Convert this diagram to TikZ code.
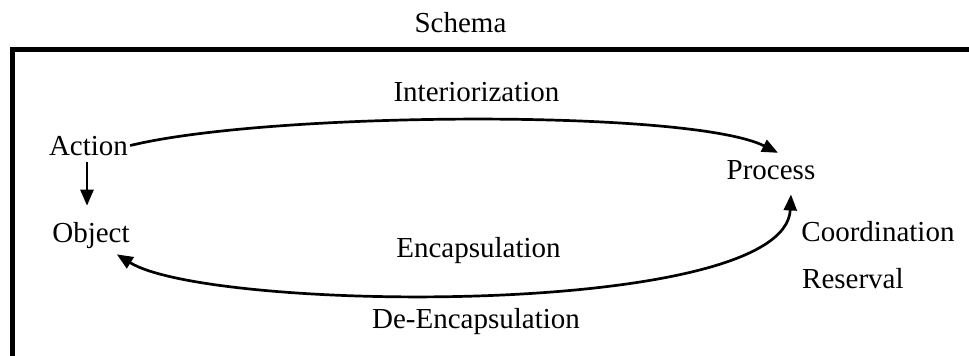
\documentclass[tikz,border=0pt]{standalone}
\usepackage{fontspec}
\setmainfont{Liberation Serif}
\usetikzlibrary{arrows.meta}
\begin{document}
\begin{tikzpicture}[x=1pt,y=-1pt,
  lbl/.style={inner sep=0pt,font=\fontsize{29}{34}\selectfont},
  conn/.style={line width=2.7pt,-{Triangle[length=16pt,width=13pt]}},
  frame/.style={line width=5pt,line join=miter}]
\useasboundingbox (0,0) rectangle (969,356);
\draw[frame] (975,49.5) -- (12,49.5) -- (12,362);
\node[lbl,anchor=base] (schema) at (460.5,32) {Schema};
\node[lbl,anchor=base] (inter) at (476.5,101) {Interiorization};
\node[lbl,anchor=base] (action) at (88.5,155) {Action};
\node[lbl,anchor=base] (object) at (91,242) {Object};
\node[lbl,anchor=base] (process) at (771,179) {Process};
\node[lbl,anchor=base] (coord) at (878,241) {Coordination};
\node[lbl,anchor=base west] (reserval) at (802,288) {Reserval};
\node[lbl,anchor=base] (encap) at (478.5,257) {Encapsulation};
\node[lbl,anchor=base] (deencap) at (476,328) {De-Encapsulation};
\draw[conn,shorten <=7pt,shorten >=16pt] ([xshift=-1.5pt]action.south) -- ([xshift=-1.5pt]action.south |- object.north);
\draw[conn] ([xshift=2pt]action.east) .. controls +(139,-34) and +(-88,-44) .. ([xshift=7pt,yshift=7pt]process.north);
\draw[conn,{Triangle[length=16pt,width=13pt]}-{Triangle[length=16pt,width=13pt]}] ([xshift=-13pt,yshift=-6pt]object.south east) .. controls +(93,58) and +(-6,124) .. ([xshift=20pt,yshift=-15pt]process.south);
\end{tikzpicture}
\end{document}
